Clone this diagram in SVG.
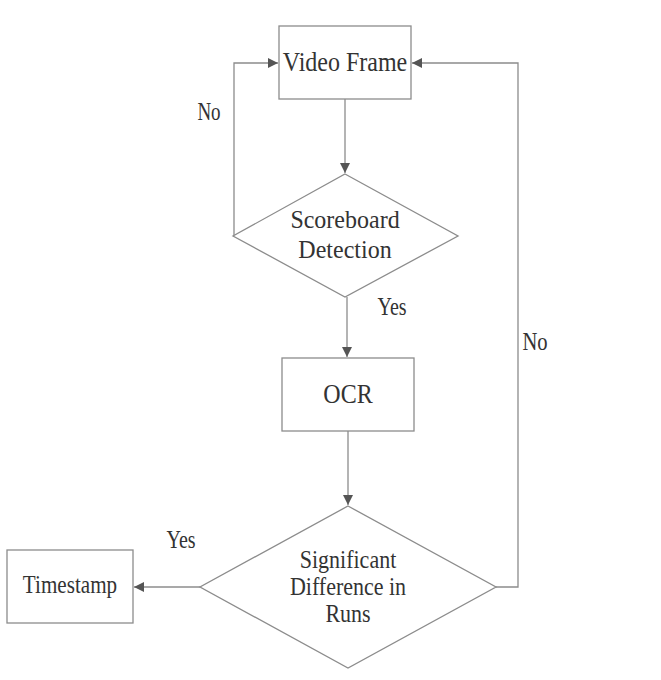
<svg xmlns="http://www.w3.org/2000/svg" width="661" height="680" viewBox="0 0 661 680">
<style>
.shape{fill:#fff;stroke:#8c8c8c;stroke-width:1.3}
.conn{fill:none;stroke:#8c8c8c;stroke-width:1.3}
text{font-family:'Liberation Serif','Times New Roman',serif;fill:#333;text-anchor:middle}
.big{font-size:24px}
.mid{font-size:22px}
.lbl{font-size:20px}
</style>
<defs>
<marker id="arr" viewBox="0 0 10 10" refX="10" refY="5" markerWidth="10" markerHeight="10" markerUnits="userSpaceOnUse" orient="auto">
<path d="M0,0 L10,5 L0,10 z" fill="#555"/>
</marker>
</defs>
<rect width="661" height="680" fill="#fff"/>
<g id="connectors">
<path class="conn" d="M345,99 V173" marker-end="url(#arr)"/>
<path class="conn" d="M347,297 V357" marker-end="url(#arr)"/>
<path class="conn" d="M348,431 V505" marker-end="url(#arr)"/>
<path class="conn" d="M233,236 H234 V63 H278" marker-end="url(#arr)"/>
<path class="conn" d="M496,587 H518 V63 H412" marker-end="url(#arr)"/>
<path class="conn" d="M200,587 H134" marker-end="url(#arr)"/>
</g>
<g id="video-frame">
<rect class="shape" x="279" y="26" width="132" height="73"/>
<text class="big" transform="translate(345,71) scale(1,1.13)">Video Frame</text>
</g>
<g id="scoreboard-detection">
<polygon class="shape" points="345,174 458,236 345,297 233,236"/>
<text class="big" transform="translate(345,228) scale(1,1.08)">Scoreboard</text>
<text class="big" transform="translate(345,258) scale(1,1.08)">Detection</text>
</g>
<g id="ocr">
<rect class="shape" x="282" y="358" width="132" height="73"/>
<text class="big" transform="translate(348,403) scale(1,1.13)">OCR</text>
</g>
<g id="significant-difference">
<polygon class="shape" points="348,506 496,587 348,668 200,587"/>
<text class="mid" transform="translate(348,568) scale(1,1.13)">Significant</text>
<text class="mid" transform="translate(348,595) scale(1,1.13)">Difference in</text>
<text class="mid" transform="translate(348,622) scale(1,1.13)">Runs</text>
</g>
<g id="timestamp">
<rect class="shape" x="7" y="550" width="126" height="73"/>
<text class="mid" transform="translate(70,593) scale(0.96,1.15)">Timestamp</text>
</g>
<g id="labels">
<text class="lbl" transform="translate(209,120) scale(0.95,1.25)">No</text>
<text class="lbl" transform="translate(392,315) scale(1,1.25)">Yes</text>
<text class="lbl" transform="translate(535,350) scale(1.03,1.25)">No</text>
<text class="lbl" transform="translate(181,548) scale(1,1.25)">Yes</text>
</g>
</svg>
